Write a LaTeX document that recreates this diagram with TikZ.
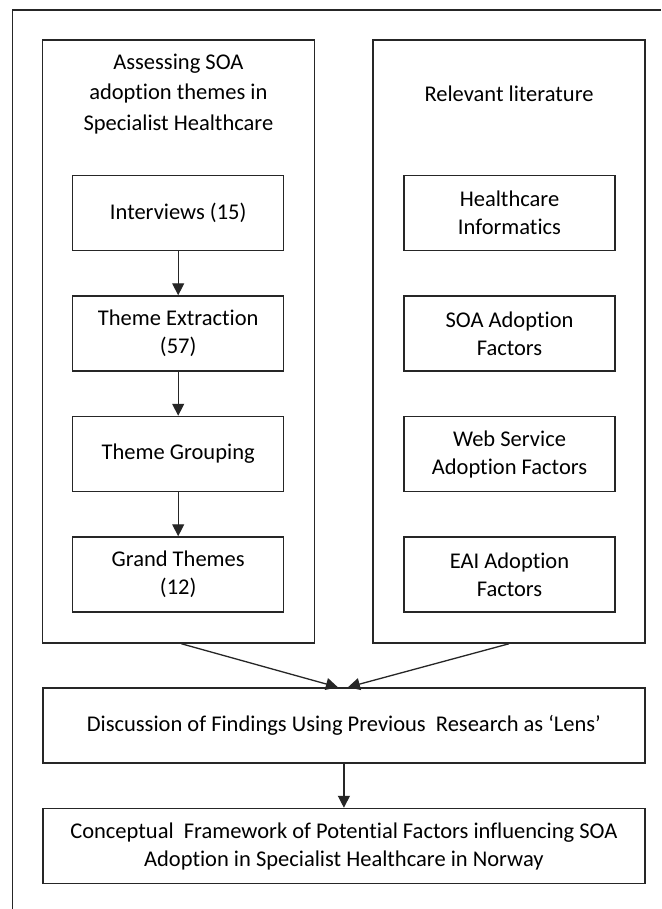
\documentclass[tikz,border=0pt]{standalone}
\usepackage{fontspec}
\setmainfont{Carlito}[Ligatures=NoCommon]
\usetikzlibrary{arrows.meta}
\begin{document}
\begin{tikzpicture}[x=1pt,y=-1pt,
  frame/.style={draw=black!85,line width=1.5pt},
  bigbox/.style={frame,rectangle,inner sep=0pt,minimum width=272pt,minimum height=603pt},
  smallbox/.style={frame,rectangle,inner sep=0pt,minimum width=211pt,minimum height=75pt,align=center},
  widebox/.style={frame,rectangle,inner sep=0pt,minimum width=602pt,minimum height=75pt,align=center},
  lbl/.style={align=center,inner sep=0pt},
  arr/.style={draw=black!85,line width=1.3pt,-{Triangle[length=12pt,width=12pt]}},
  every node/.append style={font=\fontsize{22.5}{28}\selectfont}
]
\useasboundingbox (0,0) rectangle (661,909);
\fill[white] (0,0) rectangle (661,909);
% outer frame (clipped at right and bottom)
\draw[frame] (12.7,909) -- (12.7,10) -- (661,10);

% big containers
\node[bigbox] (L) at (178.4,341.5) {};
\node[bigbox] (R) at (509,341.5) {};
\node[lbl,font=\fontsize{22.5}{30.5}\selectfont] (Lt) at (178.4,94) {Assessing SOA\\adoption themes in\\Specialist Healthcare};
\node[lbl] (Rt) at (509,94) {Relevant literature};

% left column
\node[smallbox] (i1) at (178.2,212.8) {Interviews (15)};
\node[smallbox] (i2) at (178.2,333.5) {Theme Extraction\\(57)};
\node[smallbox] (i3) at (178.2,454) {Theme Grouping};
\node[smallbox] (i4) at (178.2,574.5) {Grand Themes\\(12)};

% right column
\node[smallbox] (r1) at (509.5,212.8) {Healthcare\\Informatics};
\node[smallbox] (r2) at (509.5,333.5) {SOA Adoption\\Factors};
\node[smallbox] (r3) at (509.5,454) {Web Service\\Adoption Factors};
\node[smallbox] (r4) at (509.5,574.5) {EAI Adoption\\Factors};

% bottom
\node[widebox] (D) at (343.9,725.5) {Discussion of Findings Using Previous\ \ Research as ‘Lens’};
\node[widebox] (C) at (343.9,846) {Conceptual\ \ Framework of Potential Factors influencing SOA\\Adoption in Specialist Healthcare in Norway};

% connectors
\draw[arr] (i1) -- (i2);
\draw[arr] (i2) -- (i3);
\draw[arr] (i3) -- (i4);
\draw[arr] (L.south) ++(3,0) coordinate (ls) (ls) -- ([xshift=-6pt]D.north);
\draw[arr] (R.south) -- ([xshift=4pt]D.north);
\draw[arr] (D) -- (C);
\end{tikzpicture}
\end{document}
